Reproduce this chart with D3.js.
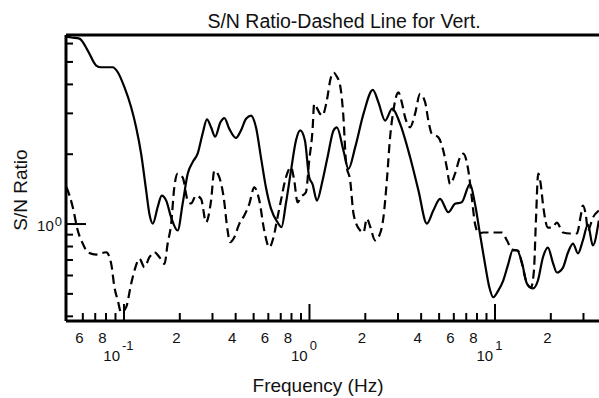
<!DOCTYPE html>
<html>
<head>
<meta charset="utf-8">
<script src="https://cdn.jsdelivr.net/npm/d3@7"></script>
<style>
html,body{margin:0;padding:0;background:#fff;}
svg{display:block;font-family:"Liberation Sans",Arial,sans-serif;}
</style>
</head>
<body>
<svg id="chart" width="599" height="398"></svg>
<script>
// ---- data ----
const solidFreq = [0.0493,0.0525,0.0579,0.0642,0.0713,0.0759,0.0875,0.0932,0.1012,0.110,0.117,0.1245,0.1325,0.138,0.144,0.153,0.1607,0.170,0.1807,0.196,0.2085,0.222,0.236,0.251,0.267,0.282,0.2966,0.312,0.333,0.350,0.372,0.404,0.430,0.458,0.487,0.518,0.551,0.586,0.624,0.677,0.711,0.751,0.800,0.851,0.897,0.951,1.003,1.045,1.104,1.183,1.259,1.356,1.414,1.535,1.633,1.774,1.967,2.21,2.368,2.573,2.81,3.10,3.51,3.89,4.32,4.68,5.09,5.64,6.13,6.66,7.38,7.85,8.35,8.89,9.38,9.85,10.48,11.15,11.87,12.53,13.22,14.06,14.96,16.12,17.15,18.24,19.41,20.64,21.7,23.4,24.9,26.5,28.2,29.95,31.9,33.9,36.5];
const solidRatio = [6.40,6.34,6.27,5.57,4.80,4.72,4.72,4.49,3.87,3.17,2.60,2.00,1.39,1.10,1.00,1.18,1.32,1.256,1.064,0.933,1.22,1.64,1.84,2.00,2.44,2.81,2.60,2.37,2.73,2.85,2.56,2.34,2.52,2.83,2.92,2.60,1.93,1.434,1.16,1.013,0.964,1.22,1.69,2.28,2.52,2.28,1.58,1.48,1.256,1.53,1.93,2.52,2.60,2.06,1.72,2.13,2.97,3.77,3.33,2.78,3.13,2.69,1.93,1.39,1.00,1.138,1.278,1.119,1.216,1.235,1.48,1.216,0.903,0.670,0.531,0.481,0.514,0.568,0.670,0.765,0.765,0.679,0.551,0.525,0.568,0.714,0.788,0.679,0.615,0.646,0.750,0.820,0.743,0.845,0.99,0.804,1.03];

const dashedFreq = [0.0493,0.0512,0.0533,0.0567,0.0604,0.0642,0.0713,0.0807,0.0859,0.0894,0.0932,0.0972,0.1034,0.110,0.1146,0.122,0.1297,0.138,0.1469,0.1563,0.1663,0.173,0.1807,0.188,0.196,0.2085,0.222,0.2314,0.246,0.262,0.2787,0.2966,0.309,0.3287,0.3467,0.3642,0.3753,0.396,0.421,0.448,0.477,0.507,0.540,0.574,0.611,0.644,0.677,0.706,0.751,0.800,0.833,0.868,0.908,0.963,1.003,1.045,1.067,1.108,1.136,1.183,1.239,1.313,1.359,1.402,1.473,1.529,1.587,1.668,1.741,1.888,1.967,2.051,2.137,2.274,2.418,2.520,2.629,2.737,2.852,3.034,3.165,3.298,3.51,3.73,3.97,4.23,4.40,4.59,4.98,5.30,5.53,5.76,6.13,6.52,6.79,7.23,7.54,7.85,8.25,8.67,10.97,11.68,12.42,13.38,14.06,14.96,15.73,16.32,16.73,17.21,17.80,18.24,19.41,20.4,21.7,23.4,25.5,27.8,29.2,29.95,31.1,31.9,33.9,36.5];
const dashedRatio = [1.434,1.32,1.176,0.933,0.818,0.752,0.735,0.752,0.670,0.531,0.466,0.413,0.436,0.550,0.627,0.705,0.648,0.716,0.752,0.716,0.670,0.818,0.997,1.434,1.64,1.58,1.256,1.22,1.32,1.278,1.013,1.256,1.69,1.58,1.30,0.933,0.831,0.873,0.997,1.083,1.216,1.434,1.256,0.933,0.790,0.873,1.064,1.256,1.58,1.75,1.53,1.235,1.307,1.364,1.87,2.52,3.28,3.13,3.01,2.92,3.29,4.27,4.48,4.35,3.93,2.98,1.81,1.53,1.093,0.933,0.915,1.05,0.971,0.845,0.906,1.064,1.53,2.355,3.07,3.68,3.33,2.87,2.60,2.97,3.62,3.33,2.78,2.44,2.355,2.06,1.75,1.48,1.64,1.93,2.00,1.69,1.30,1.00,0.906,0.915,0.915,0.845,0.773,0.765,0.672,0.551,0.530,0.627,1.03,1.64,1.458,1.22,0.961,0.961,1.01,0.915,0.906,0.906,1.083,1.196,1.083,0.933,1.06,1.138];

const xMajorTicks = [0.1, 1, 10];
const xMinorTicks = [0.06,0.07,0.08,0.09,0.2,0.3,0.4,0.5,0.6,0.7,0.8,0.9,2,3,4,5,6,7,8,9,20,30];
const xMinorLabels = [0.06,0.08,0.2,0.4,0.6,0.8,2,4,6,8,20];
const xMajorExp = ["-1","0","1"];
const yMajorTicks = [1];
const yMinorTicks = [0.4,0.5,0.6,0.7,0.8,0.9,2,3,4,5,6];
const yMajorExp = ["0"];

const titleText = "S/N Ratio-Dashed Line for Vert.";
const xLabelText = "Frequency (Hz)";
const yLabelText = "S/N Ratio";

// ---- layout ----
const W = 599, H = 398;
const mLeft = 66, mTop = 35, mBottom = 321, mRight = 599;
const svg = d3.select("#chart");

const x = d3.scaleLog().domain([0.049, 36.6]).range([mLeft, mRight]);
const y = d3.scaleLog().domain([0.38, 6.5]).range([mBottom, mTop]);

svg.append("defs").append("clipPath").attr("id","plotclip")
  .append("rect").attr("x", mLeft).attr("y", mTop).attr("width", mRight-mLeft+10).attr("height", mBottom-mTop);

const g = svg.append("g");

// curves
const line = d3.line().x(d => x(d[0])).y(d => y(d[1])).curve(d3.curveMonotoneX);
const solid = solidFreq.map((f,i)=>[f, solidRatio[i]]);
const dashed = dashedFreq.map((f,i)=>[f, dashedRatio[i]]);

const plot = g.append("g").attr("clip-path","url(#plotclip)");
plot.append("path").datum(dashed).attr("d", line)
  .attr("fill","none").attr("stroke","#000").attr("stroke-width",2.2)
  .attr("stroke-dasharray","9,5").attr("stroke-linejoin","round");
plot.append("path").datum(solid).attr("d", line)
  .attr("fill","none").attr("stroke","#000").attr("stroke-width",2.2)
  .attr("stroke-linejoin","round");

// x ticks (pointing up into plot)
const xMinorAxis = d3.axisBottom(x).tickValues(xMinorTicks).tickSizeInner(-8).tickSizeOuter(0).tickFormat("");
const xMajorAxis = d3.axisBottom(x).tickValues(xMajorTicks).tickSizeInner(-17).tickSizeOuter(0).tickFormat("");
[xMinorAxis, xMajorAxis].forEach(ax => {
  const a = g.append("g").attr("transform", `translate(0,${mBottom})`).call(ax);
  a.select(".domain").remove();
  a.selectAll("line").attr("stroke","#000").attr("stroke-width",2);
});

// y ticks (pointing right into plot)
const yMinorAxis = d3.axisLeft(y).tickValues(yMinorTicks).tickSizeInner(-7).tickSizeOuter(0).tickFormat("");
const yMajorAxis = d3.axisLeft(y).tickValues(yMajorTicks).tickSizeInner(-20).tickSizeOuter(0).tickFormat("");
[yMinorAxis, yMajorAxis].forEach(ax => {
  const a = g.append("g").attr("transform", `translate(${mLeft},0)`).call(ax);
  a.select(".domain").remove();
  a.selectAll("line").attr("stroke","#000").attr("stroke-width",2);
});

// frame: top, left, bottom
g.append("line").attr("x1", mLeft).attr("x2", W).attr("y1", mTop).attr("y2", mTop).attr("stroke","#000").attr("stroke-width",3);
g.append("line").attr("x1", mLeft).attr("x2", mLeft).attr("y1", mTop).attr("y2", mBottom).attr("stroke","#000").attr("stroke-width",3);
g.append("line").attr("x1", mLeft).attr("x2", W).attr("y1", mBottom).attr("y2", mBottom).attr("stroke","#000").attr("stroke-width",3);

// x tick labels (leading digit only)
const leadDigit = d => Math.round(d / Math.pow(10, Math.floor(Math.log10(d) + 1e-9)));
g.selectAll(".xminlab").data(xMinorLabels).enter().append("text")
  .attr("x", d => x(d) - 3).attr("y", mBottom + 22)
  .attr("text-anchor","middle").attr("font-size",15).attr("fill","#111")
  .text(d => String(leadDigit(d)));

xMajorTicks.forEach((v,i) => {
  const t = g.append("text").attr("x", x(v) - 5).attr("y", mBottom + 40)
    .attr("text-anchor","middle").attr("font-size",15).attr("fill","#111");
  t.append("tspan").text("10");
  t.append("tspan").attr("dy",-11).attr("dx",2).attr("font-size",13).text(xMajorExp[i]);
});

// y tick label
yMajorTicks.forEach((v,i) => {
  const t = g.append("text").attr("x", mLeft - 4).attr("y", y(v) + 7)
    .attr("text-anchor","end").attr("font-size",15).attr("fill","#111");
  t.append("tspan").text("10");
  t.append("tspan").attr("dy",-5).attr("dx",1).attr("font-size",13).text(yMajorExp[i]);
});

// title and labels
svg.append("text").attr("x", 344).attr("y", 28).attr("text-anchor","middle")
  .attr("font-size",19.5).attr("fill","#111").text(titleText);
svg.append("text").attr("x", 318).attr("y", 392).attr("text-anchor","middle")
  .attr("font-size",19).attr("fill","#111").text(xLabelText);
svg.append("text").attr("transform","translate(27,190) rotate(-90)").attr("text-anchor","middle")
  .attr("font-size",19).attr("fill","#111").text(yLabelText);
</script>
</body>
</html>
